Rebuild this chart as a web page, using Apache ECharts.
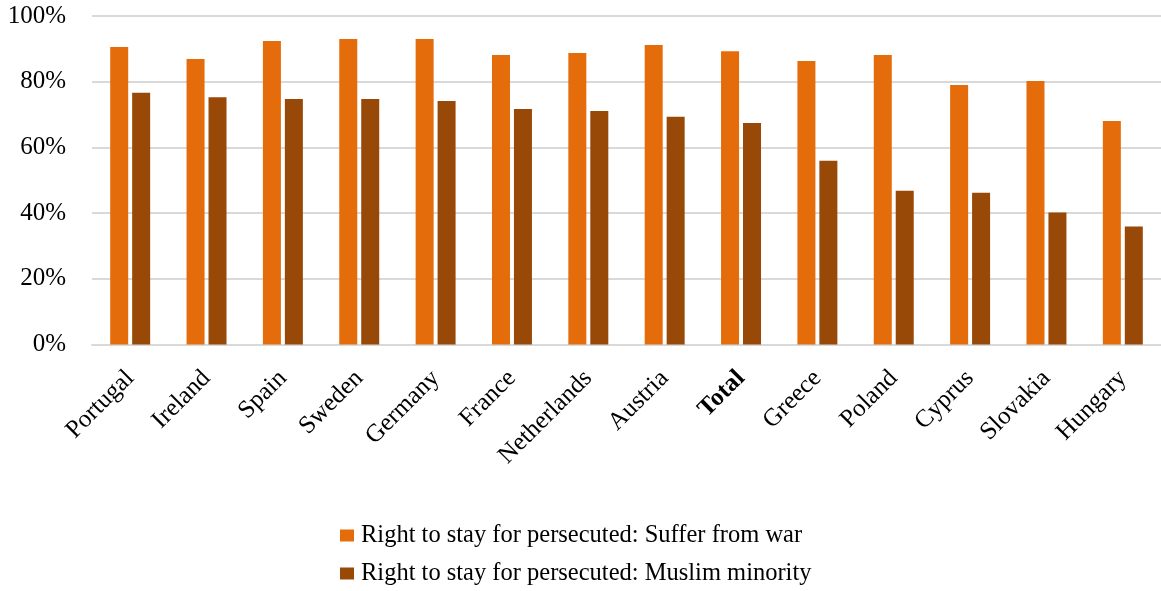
<!DOCTYPE html>
<html>
<head>
<meta charset="utf-8">
<script src="https://cdn.jsdelivr.net/npm/echarts@6/dist/echarts.min.js"></script>
<style>
  html, body { margin: 0; padding: 0; background: #fff; }
  #chart { width: 1161px; height: 591px; }
</style>
</head>
<body>
<div id="chart"></div>
<script>
const countries = ['Portugal', 'Ireland', 'Spain', 'Sweden', 'Germany', 'France', 'Netherlands',
  'Austria', 'Total', 'Greece', 'Poland', 'Cyprus', 'Slovakia', 'Hungary']
const sufferFromWar = [90.6, 86.9, 92.4, 93.0, 93.0, 88.1, 88.7, 91.2, 89.3, 86.3, 88.1, 79.0, 80.2, 68.0]
const muslimMinority = [76.6, 75.3, 74.7, 74.7, 74.1, 71.7, 71.1, 69.3, 67.4, 55.9, 46.8, 46.2, 40.2, 35.9]
const seriesNames = ['Right to stay for persecuted: Suffer from war', 'Right to stay for persecuted: Muslim minority']
const colors = ['#E46C0A', '#984807']

const font = '"Liberation Serif", "Times New Roman", serif'

// one legend per row, so the two entries stack like the original
function legendRow(name, top) {
  return {
    left: 340,
    top: top,
    padding: 0,
    itemWidth: 14,
    itemHeight: 12,
    icon: 'rect',
    data: [name],
    textStyle: { fontFamily: font, fontSize: 24.5, color: '#000', padding: [0, 0, 0, 2] }
  }
}

let myChart = echarts.init(document.getElementById('chart'))
myChart.setOption({
  animation: false,
  textStyle: { fontFamily: font },
  grid: { left: 92, top: 16, width: 1076, height: 328.5 },
  legend: [legendRow(seriesNames[0], 523), legendRow(seriesNames[1], 561)],
  xAxis: {
    type: 'category',
    data: countries,
    axisLine: { lineStyle: { color: '#d9d9d9', width: 2 } },
    axisTick: { show: false },
    axisLabel: {
      interval: 0,
      rotate: 45,
      margin: 30,
      fontFamily: font,
      fontSize: 25,
      color: '#000',
      formatter: function (v) { return v === 'Total' ? '{b|Total}' : v },
      rich: { b: { fontWeight: 'bold', fontFamily: font, fontSize: 25, color: '#000' } }
    }
  },
  yAxis: {
    type: 'value',
    min: 0,
    max: 100,
    interval: 20,
    axisLine: { show: false },
    axisTick: { show: false },
    splitLine: { lineStyle: { color: '#d9d9d9', width: 2 } },
    axisLabel: { formatter: '{value}%', margin: 26, fontFamily: font, fontSize: 25, color: '#000' }
  },
  series: [
    {
      name: seriesNames[0],
      type: 'bar',
      data: sufferFromWar,
      barWidth: 18,
      barGap: '22%',
      itemStyle: { color: colors[0] }
    },
    {
      name: seriesNames[1],
      type: 'bar',
      data: muslimMinority,
      barWidth: 18,
      barGap: '22%',
      itemStyle: { color: colors[1] }
    }
  ]
})
</script>
</body>
</html>
